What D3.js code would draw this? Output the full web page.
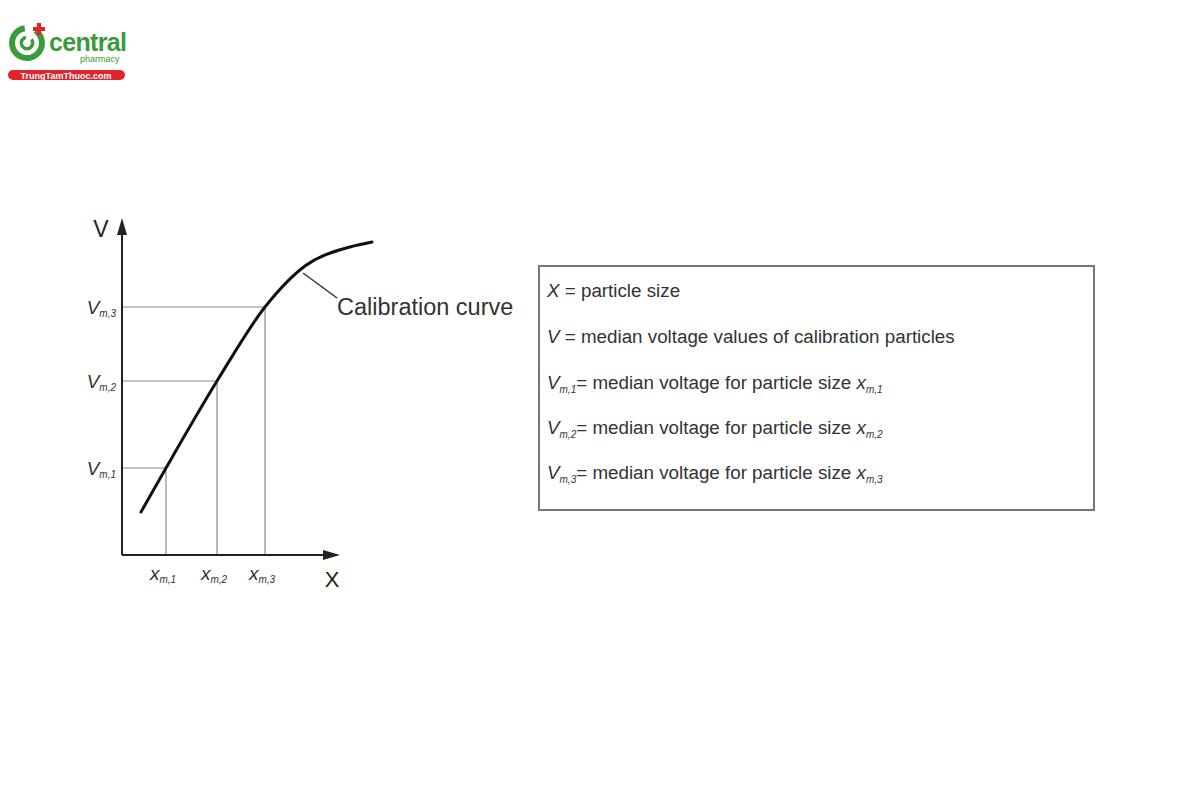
<!DOCTYPE html>
<html><head><meta charset="utf-8">
<script src="https://cdn.jsdelivr.net/npm/d3@7"></script>
<style>html,body{margin:0;padding:0;background:#fff}svg{display:block}</style>
</head><body>
<script>
// ---- data (abstract units: X = particle size, V = median voltage) ----
const curveX = [19, 44, 95, 143, 183, 228, 250];
const curveV = [43, 87, 174, 248, 289, 308, 313];
const calibX = [44, 95, 143];          // x_m,1 .. x_m,3
const calibV = [87, 174, 248];         // V_m,1 .. V_m,3
const subLabels = ["m,1", "m,2", "m,3"];
const legendLines = [
  {sym: "X", sub: "", text: " = particle size"},
  {sym: "V", sub: "", text: " = median voltage values of calibration particles"},
  {sym: "V", sub: "m,1", text: "= median voltage for particle size ", tail: "x", tailSub: "m,1"},
  {sym: "V", sub: "m,2", text: "= median voltage for particle size ", tail: "x", tailSub: "m,2"},
  {sym: "V", sub: "m,3", text: "= median voltage for particle size ", tail: "x", tailSub: "m,3"}
];
const curveLabel = "Calibration curve";

const W = 1200, H = 800;
const font = "'Liberation Sans', Arial, Helvetica, sans-serif";
const svg = d3.select("body").append("svg").attr("width", W).attr("height", H)
  .style("font-family", font);

// ---- logo ----
const logo = svg.append("g");
const green = "#3a9b3c", red = "#e3232b";
logo.append("path").attr("d", d3.arc()({innerRadius: 12, outerRadius: 18, startAngle: 0.6, endAngle: 2*Math.PI - 0.15}))
  .attr("transform", "translate(27,43)").attr("fill", green);
logo.append("path").attr("d", d3.arc()({innerRadius: 4, outerRadius: 7.5, startAngle: 0.9, endAngle: 2*Math.PI - 0.2}))
  .attr("transform", "translate(27,43)").attr("fill", green);
logo.append("rect").attr("x", 37).attr("y", 23).attr("width", 4).attr("height", 12).attr("fill", red);
logo.append("rect").attr("x", 33).attr("y", 27).attr("width", 12).attr("height", 4).attr("fill", red);
logo.append("text").attr("x", 49).attr("y", 51).attr("font-size", 25).attr("font-weight", "bold").attr("fill", green)
  .attr("textLength", 78).text("central");
logo.append("text").attr("x", 80).attr("y", 62).attr("font-size", 9).attr("fill", green).text("pharmacy");
logo.append("rect").attr("x", 8).attr("y", 70).attr("width", 117).attr("height", 10).attr("rx", 5).attr("fill", red);
logo.append("text").attr("x", 66).attr("y", 78.5).attr("font-size", 9).attr("fill", "#fff").attr("text-anchor", "middle")
  .attr("font-weight", "bold").text("TrungTamThuoc.com");

// ---- chart scales ----
const x = d3.scaleLinear().domain([0, 218]).range([122, 340]);
const y = d3.scaleLinear().domain([0, 337]).range([555, 218]);
const g = svg.append("g");

// reference lines
calibX.forEach((cx, i) => {
  g.append("line").attr("x1", x(0)).attr("x2", x(cx)).attr("y1", y(calibV[i])).attr("y2", y(calibV[i]))
    .attr("stroke", "#8a8a8a").attr("stroke-width", 1.2);
  g.append("line").attr("x1", x(cx)).attr("x2", x(cx)).attr("y1", y(calibV[i])).attr("y2", y(0))
    .attr("stroke", "#8a8a8a").attr("stroke-width", 1.2);
});

// axes
g.append("line").attr("x1", x(0)).attr("x2", x(0)).attr("y1", y(0)).attr("y2", y(322)).attr("stroke", "#222").attr("stroke-width", 2);
g.append("line").attr("x1", x(0)).attr("x2", x(204)).attr("y1", y(0)).attr("y2", y(0)).attr("stroke", "#222").attr("stroke-width", 2);
g.append("path").attr("d", `M${x(0)},${y(337)} L${x(0)-5},${y(320)} L${x(0)+5},${y(320)} Z`).attr("fill", "#222");
g.append("path").attr("d", `M${x(218)},${y(0)} L${x(201)},${y(0)-5} L${x(201)},${y(0)+5} Z`).attr("fill", "#222");

// axis titles
g.append("text").attr("x", 101).attr("y", 237).attr("font-size", 23).attr("fill", "#222").attr("text-anchor", "middle").text("V");
g.append("text").attr("x", 332).attr("y", 587).attr("font-size", 22).attr("fill", "#222").attr("text-anchor", "middle").text("X");

// tick labels
calibV.forEach((v, i) => {
  const t = g.append("text").attr("x", 116).attr("y", y(v) + 7).attr("text-anchor", "end").attr("fill", "#333");
  t.append("tspan").attr("font-size", 19).attr("font-style", "italic").text("V");
  t.append("tspan").attr("font-size", 10).attr("font-style", "italic").attr("dy", 3).text(subLabels[i]);
});
calibX.forEach((cx, i) => {
  const t = g.append("text").attr("x", x(cx) - 3).attr("y", 580).attr("text-anchor", "middle").attr("fill", "#333");
  t.append("tspan").attr("font-size", 19).attr("font-style", "italic").text("x");
  t.append("tspan").attr("font-size", 10).attr("font-style", "italic").attr("dy", 3).text(subLabels[i]);
});

// curve
const pts = curveX.map((d, i) => [d, curveV[i]]);
g.append("path").datum(pts)
  .attr("d", d3.line().x(d => x(d[0])).y(d => y(d[1])).curve(d3.curveMonotoneX))
  .attr("fill", "none").attr("stroke", "#111").attr("stroke-width", 3).attr("stroke-linecap", "round");

// curve label + leader
g.append("line").attr("x1", x(181)).attr("y1", y(282)).attr("x2", x(215)).attr("y2", y(257))
  .attr("stroke", "#333").attr("stroke-width", 1.5);
g.append("text").attr("x", 337).attr("y", 315).attr("font-size", 23.5).attr("fill", "#333").text(curveLabel);

// ---- legend box ----
const lg = svg.append("g");
lg.append("rect").attr("x", 539).attr("y", 266).attr("width", 555).attr("height", 244)
  .attr("fill", "#fff").attr("stroke", "#777").attr("stroke-width", 2);
const lineY = [297, 343, 389, 434, 479];
legendLines.forEach((l, i) => {
  const t = lg.append("text").attr("x", 547).attr("y", lineY[i]).attr("font-size", 18.8).attr("fill", "#333");
  t.append("tspan").attr("font-style", "italic").text(l.sym);
  if (l.sub) t.append("tspan").attr("font-size", 10).attr("font-style", "italic").attr("dy", 4).text(l.sub);
  t.append("tspan").attr("dy", l.sub ? -4 : 0).text(l.text);
  if (l.tail) {
    t.append("tspan").attr("font-style", "italic").text(l.tail);
    t.append("tspan").attr("font-size", 10).attr("font-style", "italic").attr("dy", 4).text(l.tailSub);
  }
});
</script>
</body></html>
